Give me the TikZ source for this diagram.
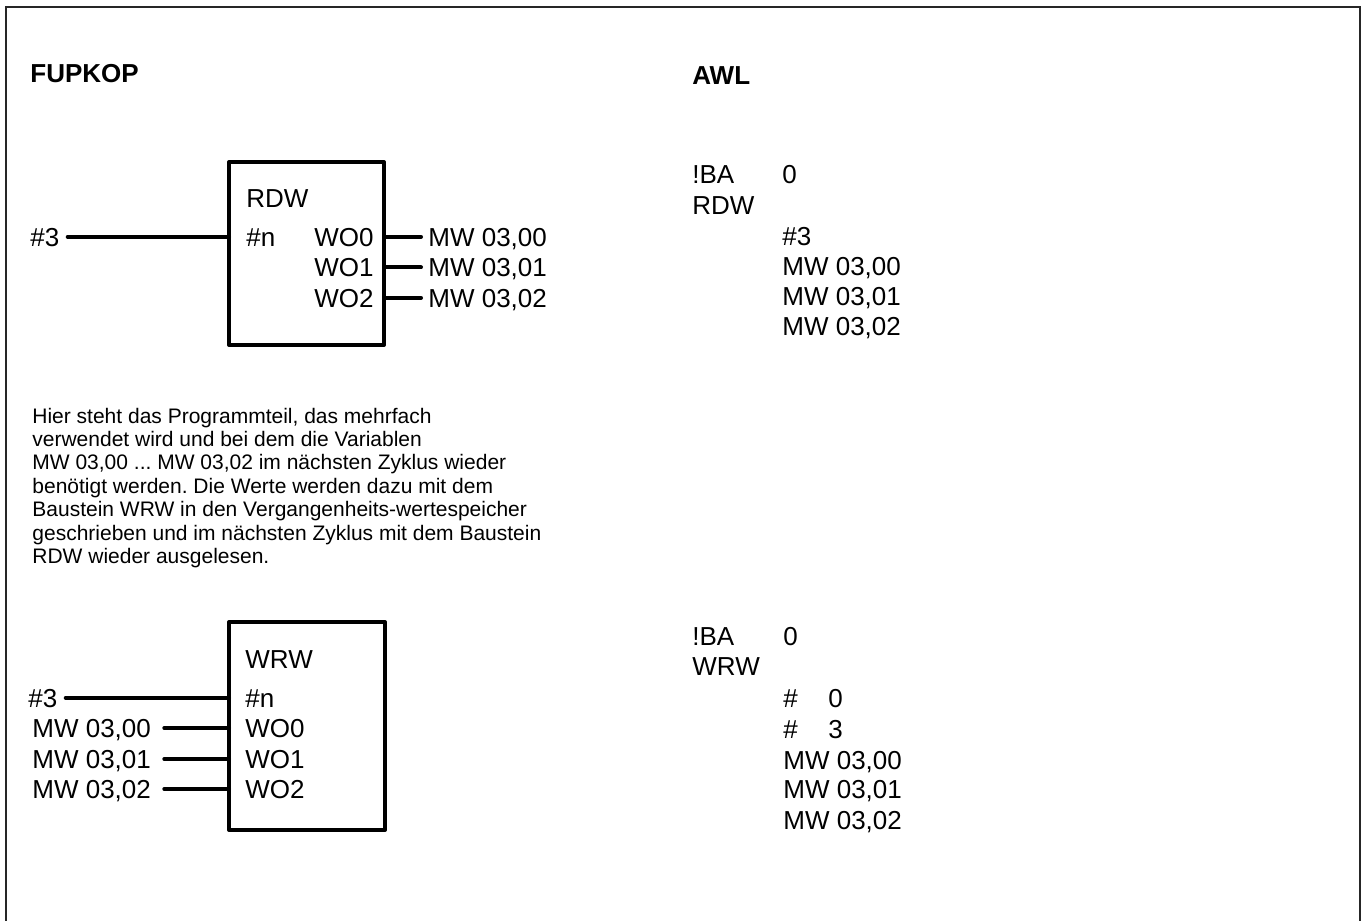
\documentclass[tikz,border=0pt]{standalone}
\usepackage{fontspec}
\setmainfont{Liberation Sans}
\usepackage{tikz}
\usetikzlibrary{positioning}
\frenchspacing

\newcommand\pinfont{\fontsize{13}{15}\selectfont}
\newcommand\notefont{\fontsize{10.5}{11.7}\selectfont}

\tikzset{
  pinlbl/.style={font=\pinfont, inner sep=0pt, text height=9.1pt, text depth=0pt, anchor=base west},
  pinrlbl/.style={pinlbl, anchor=base east},
  headtxt/.style={font=\pinfont\bfseries, inner sep=0pt, anchor=base west},
  notetxt/.style={font=\notefont, inner sep=0pt, anchor=base west},
  fbox/.style={draw, line width=2pt, line join=round, outer sep=0pt, inner sep=0pt, anchor=north west},
  wire/.style={line width=2pt, line cap=round}
}

\begin{document}
\begin{tikzpicture}[x=0.5pt, y=-0.5pt]
  \useasboundingbox (0,0) rectangle (1366,921);
  \draw[line width=0.7pt, black!85] (6,921) -- (6,7) -- (1360,7) -- (1360,921);

  % headings
  \node[headtxt] (fupkop) at (30,83) {FUPKOP};
  \node[headtxt] (awl)    at (692,84) {AWL};

  % RDW block
  \node[fbox, minimum width=77.5pt, minimum height=91.5pt] (rdw) at (229,162) {};
  \node[pinlbl]  (rdwname) at (246,207)   {RDW};
  \node[pinlbl]  (rdwn)    at (246,246)   {\#n};
  \node[pinrlbl] (rdwo0)   at (374,246)   {WO0};
  \node[pinrlbl] (rdwo1)   at (374,276.5) {WO1};
  \node[pinrlbl] (rdwo2)   at (374,307)   {WO2};
  \node[pinlbl]  (rdwin)   at (30,246)    {\#3};
  \node[pinlbl]  (rdwq0)   at (428,246)   {MW 03,00};
  \node[pinlbl]  (rdwq1)   at (428,276.5) {MW 03,01};
  \node[pinlbl]  (rdwq2)   at (428,307)   {MW 03,02};
  \draw[wire, shorten <=4pt] (rdwin.east) -- (rdwin.east -| rdw.west);
  \foreach \i in {0,1,2}
    \draw[wire, shorten >=3.5pt] (rdwq\i.west -| rdw.east) -- (rdwq\i.west);

  % AWL for RDW
  \node[pinlbl] (rdwba)  at (692,183) {!BA};
  \node[pinlbl] (rdwbaz) at (782,183) {0};
  \node[pinlbl] (rdwop)  at (692,214) {RDW};
  \foreach \txt/\y [count=\i] in {{\#3}/245, {MW 03,00}/275, {MW 03,01}/305, {MW 03,02}/335}
    \node[pinlbl] (rdwarg\i) at (782,\y) {\txt};

  % note
  \foreach \txt [count=\i from 0] in {
      {Hier steht das Programmteil, das mehrfach},
      {verwendet wird und bei dem die Variablen},
      {MW 03,00 .{}.{}. MW 03,02 im nächsten Zyklus wieder},
      {benötigt werden. Die Werte werden dazu mit dem},
      {Baustein WRW in den Vergangenheits-wertespeicher},
      {geschrieben und im nächsten Zyklus mit dem Baustein},
      {RDW wieder ausgelesen.}}
    \node[notetxt] (note\i) at (32,{423+23.4*\i}) {\txt};

  % WRW block
  \node[fbox, minimum width=78pt, minimum height=104pt] (wrw) at (229,622) {};
  \node[pinlbl] (wrwname) at (245,668) {WRW};
  \node[pinlbl] (wrwn)    at (245,707) {\#n};
  \node[pinlbl] (wrwo0)   at (245,737) {WO0};
  \node[pinlbl] (wrwo1)   at (245,768) {WO1};
  \node[pinlbl] (wrwo2)   at (245,798) {WO2};
  \node[pinlbl] (wrwin)   at (28,707)  {\#3};
  \node[pinlbl] (wrwq0)   at (32,737)  {MW 03,00};
  \node[pinlbl] (wrwq1)   at (32,768)  {MW 03,01};
  \node[pinlbl] (wrwq2)   at (32,798)  {MW 03,02};
  \draw[wire, shorten <=4pt] (wrwin.east) -- (wrwin.east -| wrw.west);
  \foreach \i in {0,1,2}
    \draw[wire, shorten <=6.5pt] (wrwq\i.east) -- (wrwq\i.east -| wrw.west);

  % AWL for WRW
  \node[pinlbl] (wrwba)  at (692,645) {!BA};
  \node[pinlbl] (wrwbaz) at (783,645) {0};
  \node[pinlbl] (wrwop)  at (692,675) {WRW};
  \foreach \txt/\y [count=\i] in {{\makebox[22.5pt][l]{\#}0}/707, {\makebox[22.5pt][l]{\#}3}/738,
      {MW 03,00}/769, {MW 03,01}/798, {MW 03,02}/829}
    \node[pinlbl] (wrwarg\i) at (783,\y) {\txt};
\end{tikzpicture}
\end{document}
